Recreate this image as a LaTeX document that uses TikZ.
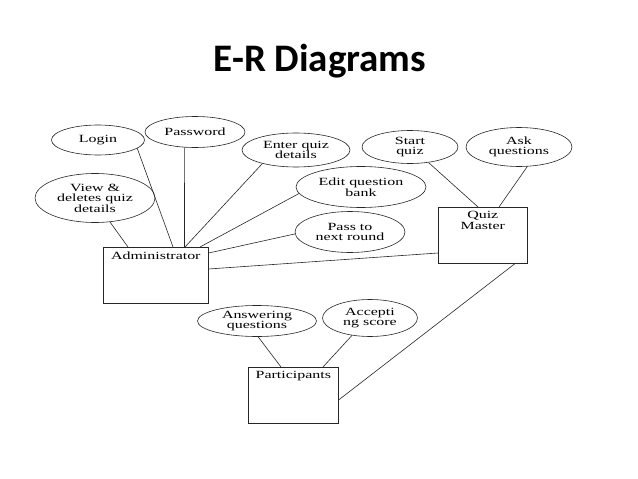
\documentclass[tikz,border=0pt]{standalone}
\usepackage{fontspec}
\setmainfont{Liberation Serif}[FakeStretch=1.45]
\newfontfamily\titlefont{Carlito}
\usetikzlibrary{shapes.geometric,calc}
\newcommand{\diagfont}{\fontsize{11}{10.5}\selectfont}
\tikzset{
  attr/.style={ellipse, draw=black!85, line width=0.6pt, inner sep=0pt, align=center, font=\diagfont},
  entity/.style={draw=black!85, line width=0.6pt, rectangle, inner sep=0pt, anchor=north west},
  lbl/.style={anchor=north, align=center, inner sep=4.5pt, font=\diagfont},
  link/.style={draw=black!85, line width=0.6pt}
}
\begin{document}
\begin{tikzpicture}[x=1pt,y=-1pt]
\useasboundingbox (0,0) rectangle (638,479);
\node[font=\titlefont\bfseries\fontsize{39}{44}\selectfont, anchor=base] (title) at (320,71) {E-R Diagrams};

% attributes
\node[attr, minimum width=93, minimum height=30] (login) at (98,140) {Login};
\node[attr, minimum width=100, minimum height=31] (password) at (195,132) {Password};
\node[attr, minimum width=120, minimum height=49] (view) at (95,198) {View \&\\deletes quiz\\details};
\node[attr, minimum width=108, minimum height=34] (enter) at (296,150) {Enter quiz\\details};
\node[attr, minimum width=130, minimum height=41] (edit) at (361,187) {Edit question\\bank};
\node[attr, minimum width=110, minimum height=41] (pass) at (350,232) {Pass to\\next round};
\node[attr, minimum width=96, minimum height=33] (start) at (410,147) {Start\\quiz};
\node[attr, minimum width=106, minimum height=39] (ask) at (519,147) {Ask\\questions};
\node[attr, minimum width=119, minimum height=31] (answer) at (257,321) {Answering\\questions};
\node[attr, minimum width=95, minimum height=37] (accept) at (370,318) {Accepti\\ng score};

% entities
\node[entity, minimum width=105, minimum height=56, label={[lbl]north:Administrator}] (admin) at (103,247) {};
\node[entity, minimum width=89, minimum height=56, label={[lbl]north:Quiz\\Master}] (qm) at (438,207) {};
\node[entity, minimum width=90, minimum height=56, label={[lbl]north:Participants}] (part) at (248,367) {};

% connectors
\draw[link] (login.-12) -- ($(admin.north west)+(70,0)$);
\draw[link] (password.-124) -- ($(admin.north west)+(81.5,0)$);
\draw[link] (view.-58) -- ($(admin.north west)+(25,0)$);
\draw[link] (enter.-158) -- ($(admin.north west)+(82,0)$);
\draw[link] (edit.-174) -- ($(admin.north west)+(97,0)$);
\draw[link] (pass.-178) -- ($(admin.north east)+(0,6)$);
\draw[link] ($(admin.north east)+(0,22)$) -- ($(qm.north west)+(0,46)$);
\draw[link] (start.-40) -- ($(qm.north west)+(40,0)$);
\draw[link] (ask.-67) -- ($(qm.north west)+(61,0)$);
\draw[link] ($(qm.south west)+(77,0)$) -- ($(part.north east)+(0,33)$);
\draw[link] (answer.-86) -- ($(part.north west)+(33,0)$);
\draw[link] (accept.-136) -- ($(part.north west)+(75,0)$);
\end{tikzpicture}
\end{document}
